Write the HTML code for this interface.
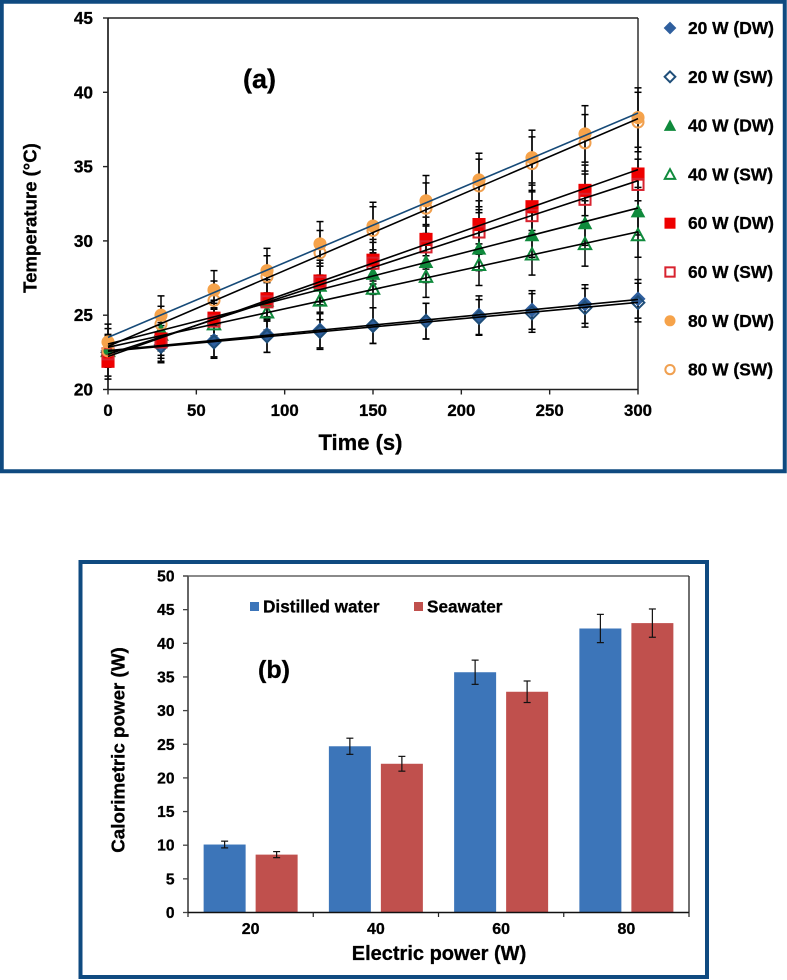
<!DOCTYPE html>
<html lang="en">
<head>
<meta charset="utf-8">
<title>Temperature and calorimetric power charts</title>
<style>
html,body{margin:0;padding:0;background:#fff;}
body{width:787px;height:980px;overflow:hidden;position:relative;}
svg{position:absolute;left:0;top:0;}
text{font-family:"Liberation Sans",Arial,sans-serif;font-weight:bold;fill:#000;stroke:#000;stroke-width:.3px;}
</style>
</head>
<body>
<svg id="fig" width="787" height="980" viewBox="0 0 787 980" style="filter:blur(.35px)">
  <rect x="1.75" y="1.75" width="783" height="469.5" fill="none" stroke="#0f4a80" stroke-width="4"/>
  <rect x="80.5" y="562" width="626.5" height="415" fill="none" stroke="#0f4a80" stroke-width="4"/>
  <g id="chartA"></g>
  <g id="chartB"></g>
  <text x="243" y="88" font-size="27">(a)</text>
  <text x="258" y="678" font-size="25">(b)</text>
  <text x="360.5" y="450" font-size="22" text-anchor="middle">Time (s)</text>
  <text transform="translate(36.5,218) rotate(-90)" font-size="18.6" text-anchor="middle">Temperature (°C)</text>
  <text x="439" y="960" font-size="20" text-anchor="middle">Electric power (W)</text>
  <text transform="translate(124.5,750) rotate(-90)" font-size="18.8" text-anchor="middle">Calorimetric power (W)</text>
</svg>
<script>
// ---- Chart (a) data ----
const times = [0, 30, 60, 90, 120, 150, 180, 210, 240, 270, 300];
const xTicksA = [0, 50, 100, 150, 200, 250, 300];
const yTicksA = [20, 25, 30, 35, 40, 45];
const seriesLabels = ["20 W (DW)", "20 W (SW)", "40 W (DW)", "40 W (SW)", "60 W (DW)", "60 W (SW)", "80 W (DW)", "80 W (SW)"];
const dw20 = [22.6, 23.0, 23.3, 23.7, 24.0, 24.3, 24.6, 25.0, 25.35, 25.75, 26.1];
const sw20 = [22.5, 22.9, 23.2, 23.6, 23.9, 24.3, 24.6, 24.85, 25.15, 25.5, 25.85];
const dw40 = [22.7, 24.0, 24.8, 26.0, 27.0, 27.8, 28.6, 29.5, 30.4, 31.2, 32.0];
const sw40 = [22.6, 23.7, 24.4, 25.2, 26.0, 26.8, 27.6, 28.4, 29.1, 29.8, 30.4];
const dw60 = [21.9, 23.4, 24.8, 26.1, 27.3, 28.7, 30.1, 31.1, 32.3, 33.4, 34.5];
const sw60 = [22.4, 23.2, 24.6, 25.9, 27.2, 28.5, 29.6, 30.6, 31.7, 32.8, 33.8];
const dw80 = [23.2, 25.0, 26.7, 28.0, 29.8, 31.0, 32.7, 34.1, 35.6, 37.2, 38.3];
const sw80 = [22.6, 24.4, 26.0, 27.6, 29.2, 30.7, 32.2, 33.7, 35.2, 36.6, 38.0];
const errDw20 = [1.0, 1.1, 1.1, 1.2, 1.2, 1.2, 1.2, 1.3, 1.3, 1.3, 1.3];
const errSw20 = [1.0, 1.1, 1.1, 1.1, 1.2, 1.2, 1.2, 1.2, 1.3, 1.3, 1.3];
const errDw40 = [1.0, 1.1, 1.2, 1.2, 1.3, 1.4, 1.4, 1.5, 1.5, 1.5, 1.6];
const errSw40 = [1.0, 1.1, 1.1, 1.2, 1.3, 1.3, 1.4, 1.4, 1.4, 1.5, 1.5];
const errDw60 = [1.0, 1.1, 1.2, 1.3, 1.4, 1.4, 1.5, 1.6, 1.6, 1.7, 1.8];
const errSw60 = [1.7, 1.1, 1.2, 1.3, 1.3, 1.4, 1.5, 1.5, 1.6, 1.7, 1.7];
const errDw80 = [1.2, 1.3, 1.3, 1.5, 1.5, 1.6, 1.7, 1.8, 1.85, 1.9, 2.0];
const errSw80 = [1.1, 1.2, 1.3, 1.4, 1.5, 1.6, 1.7, 1.8, 1.8, 1.9, 2.0];
const seriesValues = [dw20, sw20, dw40, sw40, dw60, sw60, dw80, sw80];
const seriesErrors = [errDw20, errSw20, errDw40, errSw40, errDw60, errSw60, errDw80, errSw80];

// ---- Chart (b) data ----
const powerCategories = ["20", "40", "60", "80"];
const distilledWater = [10.1, 24.7, 35.7, 42.2];
const seawater = [8.6, 22.1, 32.8, 43.0];
const distilledErr = [0.5, 1.2, 1.8, 2.1];
const seawaterErr = [0.45, 1.1, 1.6, 2.1];
const yTicksB = [0, 5, 10, 15, 20, 25, 30, 35, 40, 45, 50];

// ---- Styles ----
const markerShapes = ["diamond", "diamond", "triangle", "triangle", "square", "square", "circle", "circle"];
const markerColors = ["#2f5f9e", "#1f4e79", "#0f8a3c", "#0f8a3c", "#ee0000", "#d8232f", "#f6a34a", "#f0a050"];
const markerFilled = [true, false, true, false, true, false, true, false];

const NS = "http://www.w3.org/2000/svg";
function mk(tag, parent) {
  const el = document.createElementNS(NS, tag);
  parent.appendChild(el);
  return el;
}
function line(parent, x1, y1, x2, y2, color, w) {
  const el = mk("line", parent);
  el.setAttribute("x1", x1); el.setAttribute("y1", y1);
  el.setAttribute("x2", x2); el.setAttribute("y2", y2);
  el.setAttribute("stroke", color); el.setAttribute("stroke-width", w);
  return el;
}
function label(parent, x, y, str, size, anchor) {
  const el = mk("text", parent);
  el.setAttribute("x", x); el.setAttribute("y", y);
  el.setAttribute("font-size", size);
  el.setAttribute("text-anchor", anchor);
  el.textContent = str;
  return el;
}
function marker(parent, shape, cx, cy, color, filled, k) {
  let el;
  const r = (filled ? 5.8 : 4.9) * k;
  if (shape === "circle") {
    el = mk("circle", parent);
    el.setAttribute("cx", cx); el.setAttribute("cy", cy);
    el.setAttribute("r", r);
  } else if (shape === "square") {
    el = mk("rect", parent);
    el.setAttribute("x", cx - r); el.setAttribute("y", cy - r);
    el.setAttribute("width", 2 * r); el.setAttribute("height", 2 * r);
  } else if (shape === "diamond") {
    el = mk("polygon", parent);
    const d = r * 1.15;
    el.setAttribute("points", [cx, cy - d, cx + d, cy, cx, cy + d, cx - d, cy].join(","));
  } else {
    el = mk("polygon", parent);
    const d = r * 1.12;
    el.setAttribute("points", [cx, cy - d, cx + d, cy + d * 0.85, cx - d, cy + d * 0.85].join(","));
  }
  el.setAttribute("fill", filled ? color : "none");
  el.setAttribute("stroke", filled ? "none" : color);
  el.setAttribute("stroke-width", filled ? 0 : 2);
  return el;
}
function fit(xs, ys) {
  const n = xs.length;
  const mx = xs.reduce((a, b) => a + b, 0) / n;
  const my = ys.reduce((a, b) => a + b, 0) / n;
  let num = 0, den = 0;
  xs.forEach((x, i) => { num += (x - mx) * (ys[i] - my); den += (x - mx) * (x - mx); });
  const slope = num / den;
  return t => my + slope * (t - mx);
}

// ---- Draw chart (a) ----
const A = document.getElementById("chartA");
const xA = t => 108 + (t - 0) * (638 - 108) / 300;
const yA = v => 389.5 - (v - 20) * (389.5 - 18) / 25;

const axesA = mk("g", A);


line(axesA, xA(0), yA(45), xA(300), yA(45), "#222", 1.4);
line(axesA, xA(300), yA(45), xA(300), yA(20), "#222", 1.4);
line(axesA, xA(0), yA(45), xA(0), yA(20), "#111", 1.6);
line(axesA, xA(0), yA(20), xA(300), yA(20), "#222", 1.6);
xTicksA.forEach(t => {
  line(axesA, xA(t), yA(20), xA(t), yA(20) + 5, "#222", 1.4);
  const tl = label(axesA, xA(t), 416, String(t), 16.8, "middle");
  
  
});
yTicksA.forEach(v => {
  line(axesA, xA(0) - 5, yA(v), xA(0), yA(v), "#222", 1.4);
  const tl = label(axesA, 93, yA(v) + 6, String(v), 17.2, "end");
  
  
});

seriesValues.forEach((vals, s) => {
  const g = mk("g", A);
  
  
  vals.forEach((v, i) => {
    const e = seriesErrors[s][i];
    const x = xA(times[i]);
    const eb = line(g, x, yA(v + e), x, yA(v - e), "#111", 1.6);
    
    
    line(g, x - 3.5, yA(v + e), x + 3.5, yA(v + e), "#000", 1.5);
    line(g, x - 3.5, yA(v - e), x + 3.5, yA(v - e), "#000", 1.5);
  });
});
seriesValues.forEach((vals, s) => {
  const g = mk("g", A);
  
  
  vals.forEach((v, i) => {
    const m = marker(g, markerShapes[s], xA(times[i]), yA(v), markerColors[s], markerFilled[s], 1.13);
    
    
  });
});
seriesValues.forEach((vals, s) => {
  const f = fit(times, vals);
  const t = line(A, xA(0), yA(f(0)), xA(300), yA(f(300)), s === 6 ? "#164a78" : "#000", 1.6);
  
  
});

const legendStartY = 28, legendStepY = 48.8;
seriesLabels.forEach((txt, s) => {
  const g = mk("g", A);
  
  
  const y = legendStartY + s * legendStepY;
  marker(g, markerShapes[s], 670, y, markerColors[s], markerFilled[s], 0.95);
  label(g, 688, y + 6, txt, 17.4, "start");
});

// ---- Draw chart (b) ----
const B = document.getElementById("chartB");
const left = 188, right = 689;
const catW = (right - left) / powerCategories.length;
const yB = v => 912.5 - v * (912.5 - 576) / 50;

const axesB = mk("g", B);


line(axesB, 183, yB(50), right, yB(50), "#444", 1.3);
line(axesB, right, yB(50), right, yB(0), "#222", 1.3);
line(axesB, left, yB(50), left, yB(0), "#555", 1.8);
yTicksB.forEach(v => {
  line(axesB, 183, yB(v), left, yB(v), "#444", 1.3);
  const tl = label(axesB, 174.5, yB(v) + 5.5, String(v), 15.6, "end");
  
  
});

powerCategories.forEach((c, i) => {
  const center = left + catW * (i + 0.5);
  const barWidth = 42, offset = 26;
  [[distilledWater, distilledErr, "#3c75b9", -offset, "bar-distilled-water"],
   [seawater, seawaterErr, "#c0504d", offset, "bar-seawater"]].forEach(spec => {
    const v = spec[0][i], e = spec[1][i], x = center + spec[3];
    const r = mk("rect", B);
    r.setAttribute("x", x - barWidth / 2);
    r.setAttribute("y", yB(v));
    r.setAttribute("width", barWidth);
    r.setAttribute("height", yB(0) - yB(v));
    r.setAttribute("fill", spec[2]);
    
    
    const eb = line(B, x, yB(v + e), x, yB(v - e), "#111", 1.2);
    
    
    line(B, x - 3.5, yB(v + e), x + 3.5, yB(v + e), "#111", 1.2);
    line(B, x - 3.5, yB(v - e), x + 3.5, yB(v - e), "#111", 1.2);
  });
  const tl = label(B, center, 934, c, 16, "middle");
  
  
});
line(B, left, yB(0), right, yB(0), "#111", 1.6);
powerCategories.concat([""]).forEach((c, i) => {
  line(B, left + catW * i, yB(0), left + catW * i, yB(0) + 4.5, "#222", 1.2);
});

const legB = [["Distilled water", "#3c75b9", 250], ["Seawater", "#c0504d", 414]];
legB.forEach(l => {
  const g = mk("g", B);
  
  
  const r = mk("rect", g);
  r.setAttribute("x", l[2]); r.setAttribute("y", 602);
  r.setAttribute("width", 9); r.setAttribute("height", 9);
  r.setAttribute("fill", l[1]);
  label(g, l[2] + 13, 612.5, l[0], 17.2, "start");
});
</script>
</body>
</html>
